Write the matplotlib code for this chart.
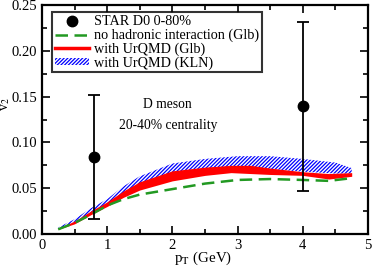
import matplotlib
matplotlib.use("Agg")
import matplotlib.pyplot as plt
from matplotlib.ticker import MultipleLocator
from matplotlib.lines import Line2D
from matplotlib.patches import Patch

plt.rcParams['font.family'] = ['Liberation Serif', 'DejaVu Serif']
plt.rcParams['mathtext.fontset'] = 'stix'
plt.rcParams['hatch.linewidth'] = 0.9

# STAR data
star_pt = [0.8, 4.0]
star_v2 = [0.084, 0.140]
star_lo = [0.016, 0.047]
star_hi = [0.152, 0.232]

# no hadronic interaction (Glb)
pt_nohad = [0.25, 0.5, 0.75, 1.0, 1.25, 1.5, 2.0, 2.5, 3.0, 3.5, 4.0, 4.4, 4.75]
v2_nohad = [0.005, 0.012, 0.021, 0.031, 0.038, 0.043, 0.049, 0.055, 0.059, 0.060, 0.059, 0.058, 0.061]

# with UrQMD (Glb) band
pt_glb = [0.25, 0.5, 0.75, 1.0, 1.25, 1.5, 2.0, 2.5, 2.9, 3.2, 3.5, 4.0, 4.4, 4.75]
glb_lo = [0.005, 0.011, 0.021, 0.030, 0.040, 0.048, 0.058, 0.064, 0.067, 0.066, 0.065, 0.064, 0.060, 0.063]
glb_hi = [0.006, 0.014, 0.025, 0.035, 0.047, 0.057, 0.069, 0.073, 0.075, 0.075, 0.072, 0.068, 0.066, 0.067]

# with UrQMD (KLN) band
pt_kln = [0.25, 0.5, 0.75, 1.0, 1.25, 1.5, 2.0, 2.5, 3.0, 3.5, 4.0, 4.5, 4.75]
kln_lo = [0.005, 0.013, 0.023, 0.033, 0.044, 0.054, 0.066, 0.071, 0.073, 0.071, 0.068, 0.066, 0.066]
kln_hi = [0.007, 0.016, 0.028, 0.038, 0.052, 0.063, 0.077, 0.082, 0.085, 0.085, 0.082, 0.078, 0.072]

green = '#229922'

fig = plt.figure(figsize=(3.74, 2.67), dpi=100)
ax = fig.add_axes([0.112, 0.124, 0.872, 0.856])

ax.fill_between(pt_kln, kln_lo, kln_hi, facecolor='white', edgecolor='blue',
                hatch='/////////', linewidth=0)
ax.fill_between(pt_glb, glb_lo, glb_hi, color='red', linewidth=0)
ax.plot(pt_nohad, v2_nohad, color=green, linestyle=(0, (5, 2.6)), linewidth=1.8)

err = [[v - l for v, l in zip(star_v2, star_lo)], [h - v for v, h in zip(star_v2, star_hi)]]
ax.errorbar(star_pt, star_v2, yerr=err, fmt='o', color='black', markersize=7.5,
            elinewidth=1.3, capsize=4.5, capthick=1.3)

# legend
h_star = Line2D([], [], marker='o', color='black', linestyle='none', markersize=7.5)
h_nohad = Line2D([], [], color=green, linestyle=(0, (5, 2.6)), linewidth=1.8)
h_glb = Line2D([], [], color='red', linewidth=2.5)
h_kln = Patch(facecolor='white', edgecolor='blue', hatch='/////////', linewidth=0)
leg = ax.legend([h_star, h_nohad, h_glb, h_kln],
                ['STAR D0 0-80%', 'no hadronic interaction (Glb)',
                 'with UrQMD (Glb)', 'with UrQMD (KLN)'],
                loc='upper left', bbox_to_anchor=(0.031, 0.969), fontsize=10.2,
                frameon=True, fancybox=False, borderpad=0.2, labelspacing=0.02,
                handlelength=2.4, handletextpad=0.4, handleheight=0.4,
                borderaxespad=0)
leg.get_frame().set_edgecolor('black')
leg.get_frame().set_linewidth(1.5)

ax.text(1.93, 0.1415, 'D meson', ha='center', va='center', fontsize=9.8)
ax.text(1.93, 0.119, '20-40% centrality', ha='center', va='center', fontsize=9.8)

ax.set_xlim(0, 5)
ax.set_ylim(0, 0.25)
ax.xaxis.set_major_locator(MultipleLocator(1))
ax.xaxis.set_minor_locator(MultipleLocator(0.5))
ax.yaxis.set_major_locator(MultipleLocator(0.05))
ax.yaxis.set_minor_locator(MultipleLocator(0.025))
ax.yaxis.set_major_formatter(plt.FormatStrFormatter('%.2f'))
ax.tick_params(which='both', direction='in', top=True, right=True, labelsize=10.5, width=1.2)
ax.tick_params(which='major', length=6)
ax.tick_params(which='minor', length=3.5)
for s in ax.spines.values():
    s.set_linewidth(1.6)

ax.set_xlabel('p$_\\mathrm{T}$ (GeV)', fontsize=10.8)
ax.set_ylabel('v$_2$', fontsize=10)
ax.xaxis.set_label_coords(0.494, -0.068)
ax.yaxis.set_label_coords(-0.093, 0.57)

fig.savefig('out.png', dpi=100)
